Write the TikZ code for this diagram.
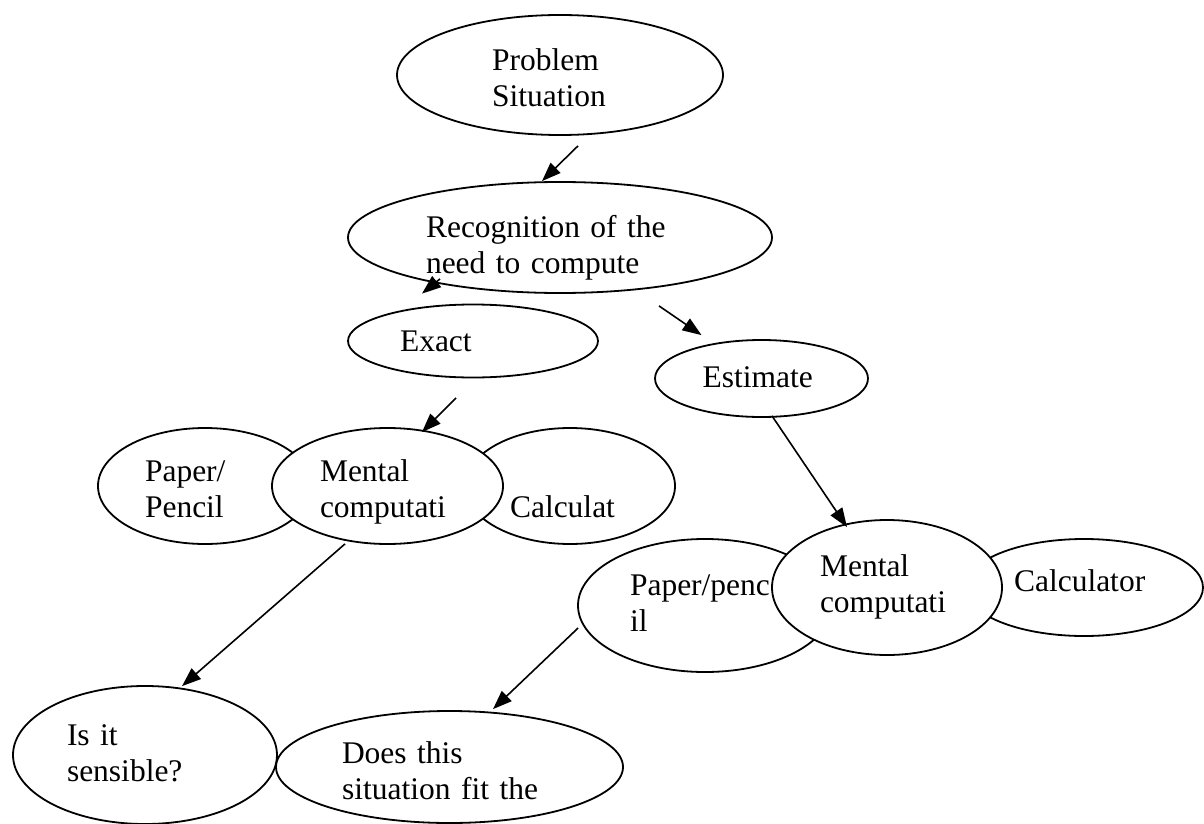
\documentclass[tikz,border=0pt]{standalone}
\usepackage{fontspec}
\setmainfont{Liberation Serif}
\usetikzlibrary{shapes.geometric, arrows.meta}

\begin{document}
\begin{tikzpicture}[x=1pt, y=-1pt,
    oval/.style={ellipse, draw, fill=white, line width=1.8pt, inner sep=0pt, align=left, font=\fontsize{31.5}{36}\selectfont},
    tb/.style 2 args={text height=#1pt, text depth=#2pt},
    arr/.style={-{Triangle[length=19pt, width=14pt]}, line width=1.6pt},
]
\useasboundingbox (0,0) rectangle (1204,824);

\node[oval, tb={25}{34}, minimum width=326pt, minimum height=120pt, text width=136pt] (prob) at (560,75) {Problem\\Situation};
\node[oval, tb={25}{26}, minimum width=424pt, minimum height=111pt, text width=268pt] (recog) at (560,237.5) {Recognition of the\\need to compute};
\node[oval, tb={30}{10}, minimum width=250pt, minimum height=73pt, text width=146pt] (exact) at (473,341) {Exact};
\node[oval, tb={27}{10}, minimum width=213pt, minimum height=77pt, text width=118pt] (estim) at (761.5,378.5) {Estimate};

% exact branch
\node[oval, tb={25}{34}, minimum width=214pt, minimum height=116pt, text width=120pt] (paperA) at (205,486) {Paper/\\Pencil};
\node[oval, tb={25}{35}, minimum width=210pt, minimum height=116pt, text width=120pt] (calcA) at (570,486) {\strut\\Calculat};
\node[oval, tb={25}{34}, minimum width=231pt, minimum height=116pt, text width=135pt] (mentalA) at (387.5,486) {Mental\\computati};

% estimate branch
\node[oval, tb={25}{46}, minimum width=254pt, minimum height=133pt, text width=150pt] (paperB) at (705,605.5) {Paper/penc\\il};
\node[oval, tb={25}{18}, minimum width=238pt, minimum height=97pt, text width=140pt] (calcB) at (1084,587.5) {Calculator};
\node[oval, tb={25}{47}, minimum width=230pt, minimum height=135pt, text width=134pt] (mentalB) at (887,587.5) {Mental\\computati};

\node[oval, tb={25}{45}, minimum width=264pt, minimum height=138pt, text width=156pt] (sens) at (145,755) {Is it\\sensible?};
\node[oval, tb={25}{32}, minimum width=347pt, minimum height=112pt, text width=215pt] (fits) at (449.5,767) {Does this\\situation fit the};

\draw[arr] ([xshift=18pt,yshift=-10pt]prob.south) -- ([xshift=-18pt]recog.north);
\draw[arr] ([xshift=-120pt,yshift=15pt]recog.south) -- ([xshift=-51pt,yshift=10pt]exact.north);
\draw[arr] ([xshift=99pt,yshift=-12pt]recog.south) -- ([xshift=-60pt,yshift=4pt]estim.north);
\draw[arr] ([xshift=-17pt,yshift=-19.5pt]exact.south) -- ([xshift=34.5pt,yshift=-5pt]mentalA.north);
\draw[arr] ([xshift=10.5pt,yshift=2pt]estim.south) -- ([xshift=-40pt,yshift=-8pt]mentalB.north);
\draw[arr] ([xshift=-42.5pt,yshift=1pt]mentalA.south) -- ([xshift=37pt,yshift=-1pt]sens.north);
\draw[arr] ([xshift=1pt,yshift=-22.5pt]paperB.west) -- ([xshift=43.5pt,yshift=1pt]fits.north);
\end{tikzpicture}
\end{document}
